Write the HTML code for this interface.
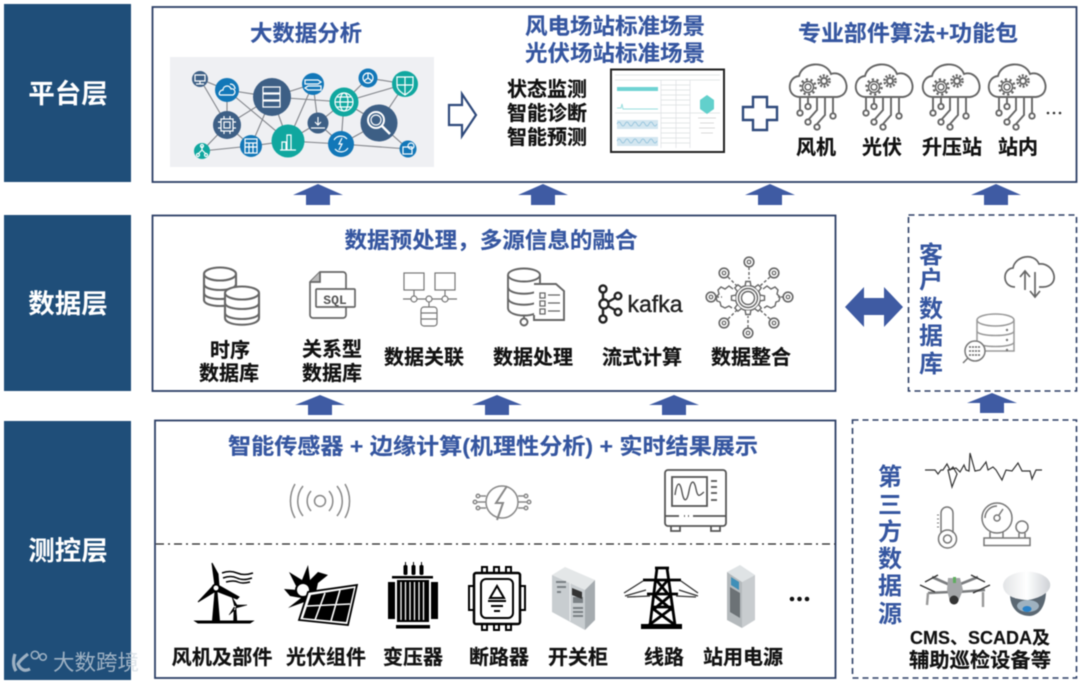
<!DOCTYPE html>
<html lang="zh"><head><meta charset="utf-8"><title>架构图</title>
<style>
html,body{margin:0;padding:0;background:#fff}
svg{display:block;filter:blur(.4px)}
text{font-family:"Liberation Sans","Noto Sans CJK SC",sans-serif;font-weight:700;text-anchor:middle}
.t{fill:#3556a0;font-size:22px;stroke:#3556a0;stroke-width:.15}
.k{fill:#111;font-size:20px;stroke:#111;stroke-width:.2}
.w{fill:#fff;font-size:26.5px}
.v{fill:#3556a0;font-size:24px}
.g{fill:none;stroke:#666;stroke-width:1.7}
.b{fill:none;stroke:#000;stroke-width:3}
.e{stroke:#808389;stroke-width:1.1}
.i{fill:none;stroke:#fff;stroke-width:1.2}
</style></head><body>
<svg width="1080" height="682" viewBox="0 0 1080 682" xmlns="http://www.w3.org/2000/svg">
<defs>
<path id="th" d="M-2.800,-12.500L-2.200,-16.500H2.200L2.800,-12.500" fill="#fff" stroke="#666" stroke-width="1.400"/>
<g id="gr">
 <use href="#th"/><use href="#th" transform="rotate(45)"/><use href="#th" transform="rotate(90)"/><use href="#th" transform="rotate(135)"/><use href="#th" transform="rotate(180)"/><use href="#th" transform="rotate(225)"/><use href="#th" transform="rotate(270)"/><use href="#th" transform="rotate(315)"/>
</g>
<symbol id="cl" overflow="visible">
 <g class="g" style="stroke-width:1.900">
  <path d="M-17,28C-31,28 -30,8 -18,7C-15,-7 9,-9 14,5C29,0 37,26 20,28Z"/>
  <circle cx="-9" cy="18" r="3" stroke-width="1.500"/><circle cx="-9" cy="18" r="5.500" stroke-width="1.500"/><circle cx="-9" cy="18" r="7.500" stroke-width="2.500" stroke-dasharray="2.200 2.500"/>
  <circle cx="7" cy="12" r="3" stroke-width="2"/><circle cx="7" cy="12" r="5.500" stroke-width="2.600" stroke-dasharray="2 1.500"/>
  <path d="M-17,28V41M-9,28V35M0,28V41L-8,50M8,28V46L0,55M16,28V44"/>
  <circle cx="-17" cy="44" r="2.700" fill="#fff"/><circle cx="-9" cy="37.500" r="2.700" fill="#fff"/><circle cx="-9" cy="53" r="2.700" fill="#fff"/><circle cx="0" cy="58" r="2.700" fill="#fff"/><circle cx="16" cy="47" r="2.700" fill="#fff"/>
 </g>
</symbol>
<g id="nd" fill="none" stroke="#666"><circle r="4.800" stroke-width="1.600"/><circle r="1.800" stroke-width="1.200"/></g>
<linearGradient id="dome" x1="0" x2="1"><stop offset="0" stop-color="#e2e4e6"/><stop offset=".5" stop-color="#fff"/><stop offset="1" stop-color="#cfd2d6"/></linearGradient>
</defs>

<!-- layer blocks -->
<rect x="4" y="4" width="127" height="178" fill="#1f4e79"/>
<rect x="4" y="215" width="127" height="176" fill="#1f4e79"/>
<rect x="4" y="421" width="127" height="259" fill="#1f4e79"/>
<text class="w" x="68" y="103">平台层</text>
<text class="w" x="68" y="313">数据层</text>
<text class="w" x="68" y="560">测控层</text>

<!-- boxes -->
<g fill="#fff" stroke="#2d3f66" stroke-width="1.8">
<rect x="152.500" y="7" width="924" height="175"/>
<rect x="152.500" y="215.500" width="683" height="175.500"/>
<rect x="155" y="420.500" width="680.500" height="257.500"/>
</g>
<g fill="none" stroke="#2d3f66" stroke-width="1.600" stroke-dasharray="6 4">
<rect x="908.500" y="215" width="168" height="176"/>
<rect x="852.500" y="420" width="224" height="258"/>
</g>
<path d="M156,544H835" stroke="#222" stroke-width="1.300" stroke-dasharray="8 4 2 4" fill="none"/>

<!-- block arrows -->
<g fill="#3f5ba3">
<path d="M293,195L318,184L343,195H330V205H306V195Z"/>
<path d="M518,195L543,184L568,195H555V205H531V195Z"/>
<path d="M745,195L770,184L795,195H782V205H758V195Z"/>
<path d="M971,195L996,184L1021,195H1008V205H984V195Z"/>
<path d="M295,405L320,395L345,405H332V415H308V405Z"/>
<path d="M472,405L497,395L522,405H509V415H485V405Z"/>
<path d="M649,405L674,395L699,405H686V415H662V405Z"/>
<path d="M967,403L992,393L1017,403H1004V413H980V403Z"/>
<path d="M845,307L864,287V298H884V287L903,307L884,327V315H864V327Z"/>
</g>
<path d="M449,105H462V94L476,115L462,136V125H449Z" fill="#fff" stroke="#2f4a7c" stroke-width="2.200"/>
<path d="M753,97H767V107H777V120H767V130H753V120H743V107H753Z" fill="#fff" stroke="#2f4a7c" stroke-width="2.400"/>

<!-- titles -->
<text class="t" x="306" y="41" textLength="112" lengthAdjust="spacingAndGlyphs">大数据分析</text>
<text class="t" x="615" y="34" textLength="180" lengthAdjust="spacingAndGlyphs">风电场站标准场景</text>
<text class="t" x="615" y="61" textLength="180" lengthAdjust="spacingAndGlyphs">光伏场站标准场景</text>
<text class="t" x="908" y="41" textLength="220" lengthAdjust="spacingAndGlyphs">专业部件算法+功能包</text>
<text class="t" x="491" y="248" textLength="293" lengthAdjust="spacingAndGlyphs">数据预处理，多源信息的融合</text>
<text class="t" x="493" y="454" textLength="530" lengthAdjust="spacingAndGlyphs">智能传感器 + 边缘计算(机理性分析) + 实时结果展示</text>

<!-- network panel -->
<rect x="170" y="57" width="264" height="110" fill="#eff0f3"/>
<path class="e" fill="none" d="M200,79L227,90M200,79L227,125M227,90L272,97M227,90V125M227,90L288,141M272,97L313,84M272,97L227,125M272,97L251,146M272,97L344,102M272,97L288,141M313,84L288,141M313,84L318,123M368,78L344,102M368,78L405,84M344,102L405,84M405,84L379,123M344,102L379,123M344,102L318,123M344,102L341,144M318,123L288,141M318,123L341,144M288,141L341,144M288,141L251,146M227,125L251,146M202,151L251,146M202,151L227,125M341,144L379,123M341,144L408,149M379,123L408,149"/>
<g fill="#3d5f85"><circle cx="200" cy="79" r="8"/><circle cx="272" cy="97" r="19"/><circle cx="379" cy="123" r="18.500"/><circle cx="318" cy="123" r="10.500"/><circle cx="227" cy="125" r="14"/></g>
<g fill="#1277b8"><circle cx="227" cy="90" r="12"/><circle cx="313" cy="84" r="11"/><circle cx="368" cy="78" r="9.500"/><circle cx="341" cy="144" r="13"/><circle cx="251" cy="146" r="11"/><circle cx="408" cy="149" r="8.500"/></g>
<g fill="#10a79f"><circle cx="405" cy="84" r="13"/><circle cx="344" cy="102" r="14.500"/><circle cx="288" cy="141" r="16.500"/><circle cx="202" cy="151" r="8"/></g>
<g class="i">
<path d="M195,75h10v6h-10zM200,81v3M196,84h8"/>
<path d="M220,95h13c4,-3 1,-7 -2,-6c-2,-5 -8,-3 -8,1c-3,0 -5,4 -3,5zM230,84c3,0 5,2 5,5"/>
<path d="M263,87h17v6h-17zM263,94h17v6h-17zM263,101h17v6h-17z"/>
<path d="M305,80h13l3,2l-3,2h-13zM321,86h-13l-3,2l3,2h13z"/>
<circle cx="368" cy="78" r="5"/><path d="M368,78V73M368,78l4,3M368,78l-4,3"/>
<path d="M397,77h16v8c0,5 -5,8 -8,10c-3,-2 -8,-5 -8,-10zM405,77v18M397,85h16"/>
<circle cx="344" cy="102" r="9"/><ellipse cx="344" cy="102" rx="4" ry="9"/><path d="M335,102h18M337,97h14M337,107h14"/>
<circle cx="376" cy="120" r="8" stroke-width="2"/><circle cx="376" cy="120" r="5"/><path d="M382,126l8,8" stroke-width="2.500"/>
<path d="M318,117v8M315,122l3,3l3,-3M311,128h14"/>
<rect x="221" y="119" width="12" height="12"/><rect x="224" y="122" width="6" height="6"/><path d="M218,122h3M218,128h3M233,122h3M233,128h3M224,116v3M230,116v3M224,131v3M230,131v3"/>
<path d="M280,150h16M282,150v-8h4v8M287,150v-15h4v15"/>
<path d="M334,140a8,8 0 0 1 13,-1M348,148a8,8 0 0 1 -13,1M339,150l3,-6h-3l3,-6"/>
<rect x="245" y="139" width="12" height="14"/><path d="M245,143h12M245,147h12M249,143v10M253,143v10"/>
<path d="M202,146v4l-4,4M202,150l4,4"/><circle cx="202" cy="146" r="1.500"/><circle cx="198" cy="155" r="1.500"/><circle cx="206" cy="155" r="1.500"/>
<rect x="403" y="147" width="9" height="7"/><circle cx="411" cy="146" r="3"/>
</g>

<!-- monitoring list + screenshot -->
<text class="k" x="547" y="96">状态监测</text>
<text class="k" x="547" y="120">智能诊断</text>
<text class="k" x="547" y="144">智能预测</text>
<rect x="611" y="69.500" width="113" height="82.500" fill="#fff" stroke="#222" stroke-width="2"/>
<g fill="none" stroke="#dcdfe1" stroke-width=".7">
<path d="M615,75H720M615,80H720M661,80V148M676,80V148M690,80V148M615,113H720M661,85H690M661,90H690M661,95H690M661,100H690M661,105H690M661,118H690M661,123H690M661,128H690M661,133H690M661,138H690M661,143H690"/>
</g>
<rect x="617" y="87" width="41" height="4" fill="#6fd3d3"/>
<path d="M617,108h4l1,-4l1,5h35" fill="none" stroke="#9adfdf"/>
<rect x="617" y="120" width="41" height="9" fill="#d3e6f0"/><rect x="617" y="137" width="41" height="9" fill="#d3e6f0"/>
<path d="M617,124q2,-4 4,0t4,0t4,0t4,0t4,0t4,0t4,0t4,0t4,0t4,0M617,141q2,-4 4,0t4,0t4,0t4,0t4,0t4,0t4,0t4,0t4,0t4,0" fill="none" stroke="#8fc0da" stroke-width=".8"/>
<path d="M707,95l7,5v9l-7,5l-7,-5v-9z" fill="#62d0cc"/>
<path d="M698,118h18M700,123h14M699,128h16M701,133h12" stroke="#d0d0d0" stroke-width=".8"/>

<!-- clouds -->
<use href="#cl" x="817" y="69"/><use href="#cl" x="883" y="69"/><use href="#cl" x="950" y="69"/><use href="#cl" x="1016" y="69"/>
<g fill="#333"><circle cx="1048" cy="113" r="1.300"/><circle cx="1054" cy="113" r="1.300"/><circle cx="1060" cy="113" r="1.300"/></g>
<text class="k" x="816" y="154">风机</text>
<text class="k" x="882" y="154">光伏</text>
<text class="k" x="952" y="154">升压站</text>
<text class="k" x="1018" y="154">站内</text>

<!-- data layer icons -->
<g class="g" style="stroke-width:2.100">
 <path d="M204,274v26c0,8 32,8 32,0v-26"/><ellipse cx="220" cy="274" rx="16" ry="6.500"/><path d="M204,284c0,8 32,8 32,0M204,293c0,8 32,8 32,0"/>
 <path d="M225,293v25c0,9 34,9 34,0v-25" fill="#fff"/><ellipse cx="242" cy="293" rx="17" ry="6.500" fill="#fff"/><path d="M225,303c0,8 34,8 34,0M225,313c0,8 34,8 34,0"/>
</g>
<g class="g">
 <path d="M320,272H343a3,3 0 0 1 3,3V315a3,3 0 0 1 -3,3H313a3,3 0 0 1 -3,-3V282Z"/><path d="M320,272V282H310" fill="#bbb"/>
 <rect x="316" y="289" width="39" height="18" rx="1" fill="#fff"/>
</g>
<text x="335" y="304" style="font-size:13px;fill:#555;font-family:'Liberation Mono',monospace">SQL</text>
<g fill="none" stroke="#777" stroke-width="1.200">
 <rect x="404" y="273" width="20" height="17"/><rect x="435" y="273" width="20" height="17"/>
 <path d="M414,290v7M445,290v7M403,299H457M429,299v8"/>
 <circle cx="414" cy="299" r="3" fill="#fff"/><circle cx="429" cy="299" r="3" fill="#fff"/><circle cx="445" cy="299" r="3" fill="#fff"/>
 <rect x="421" y="307" width="16" height="19" rx="3"/><path d="M421,313h16M421,319h16"/>
</g>
<g fill="none" stroke="#666" stroke-width="1.900">
 <path d="M508,275v33c0,10 32,10 32,0v-33"/><ellipse cx="524" cy="275" rx="16" ry="6.500"/><path d="M508,287c0,9 32,9 32,0M508,298c0,9 32,9 32,0"/>
 <path d="M524,316v3"/><circle cx="524" cy="322" r="3.500"/>
 <path d="M534,284H556L564,291V320H534V315" fill="#fff"/><path d="M540,293h5v5h-5zM548,295h12M540,301h5v5h-5zM548,303h12M540,309h5v5h-5zM548,311h12" stroke-width="1.300"/>
</g>
<g fill="none" stroke="#222" stroke-width="2.400">
 <circle cx="603" cy="289" r="3.500"/><circle cx="604" cy="304" r="4.500"/><circle cx="603" cy="319" r="3.500"/><circle cx="618" cy="296" r="3.300"/><circle cx="618" cy="312" r="3.300"/>
 <path d="M603,293v6M603,309v6M608,302l7,-4M608,306l7,4"/>
</g>
<text x="655" y="312" style="font-size:23px;font-weight:400;fill:#222;stroke:#222;stroke-width:.4" textLength="55" lengthAdjust="spacingAndGlyphs">kafka</text>
<!-- gear hub -->
<g fill="none" stroke="#666" stroke-width="1.400">
 <path d="M733,289l-4,-3l-4,3l-4,-2l-3,3l1,4l-3,3l1,4l3,1l1,4l4,2l4,-2l3,2" />
 <path d="M763,289l4,-3l4,3l4,-2l3,3l-1,4l3,3l-1,4l-3,1l-1,4l-4,2l-4,-2l-3,2"/>
 <g transform="translate(748,298)"><circle r="12.500" fill="#fff"/><use href="#gr"/></g>
 <circle cx="748" cy="298" r="9.500"/><circle cx="748" cy="298" r="6.500"/>
 <path stroke-dasharray="3 2" d="M749,267V279M748,328V316M728,277L737,286M770,277L760,286M728,319L737,310M770,319L760,310M716,297H722M784,297H778"/>
</g>
<use href="#nd" x="749" y="262"/><use href="#nd" x="748" y="333"/><use href="#nd" x="724" y="273"/><use href="#nd" x="774" y="273"/><use href="#nd" x="724" y="323"/><use href="#nd" x="774" y="323"/><use href="#nd" x="711" y="297"/><use href="#nd" x="788" y="297"/>

<text class="k" x="230" y="357">时序</text>
<text class="k" x="229" y="380">数据库</text>
<text class="k" x="332" y="356">关系型</text>
<text class="k" x="332" y="380">数据库</text>
<text class="k" x="424" y="364">数据关联</text>
<text class="k" x="533" y="364">数据处理</text>
<text class="k" x="642" y="364">流式计算</text>
<text class="k" x="751" y="364">数据整合</text>

<!-- measurement top icons -->
<g fill="none" stroke="#888" stroke-width="1.500">
 <circle cx="320" cy="501" r="5.500"/>
 <path d="M311,491a15,15 0 0 0 0,20M329,491a15,15 0 0 1 0,20M303,486a24,24 0 0 0 0,30M337,486a24,24 0 0 1 0,30M295,484a34,34 0 0 0 0,34M345,484a34,34 0 0 1 0,34"/>
 <circle cx="502" cy="502" r="16"/>
 <path d="M507,486L496,503H503L497,520" stroke-width="2"/>
 <path d="M486,496h-6M486,502h-9M486,508h-6M518,496h6M518,502h9M518,508h6"/>
 <circle cx="478" cy="496" r="1.800"/><circle cx="475" cy="502" r="1.800"/><circle cx="478" cy="508" r="1.800"/><circle cx="526" cy="496" r="1.800"/><circle cx="529" cy="502" r="1.800"/><circle cx="526" cy="508" r="1.800"/>
</g>
<g fill="none" stroke="#555" stroke-width="1.800">
 <rect x="665" y="470" width="61" height="56" rx="3"/>
 <rect x="672" y="477" width="35" height="29"/>
 <path d="M675,495c2,-14 5,-14 7,-3s5,10 7,-1s5,-12 7,-2s4,6 8,3" stroke-width="1.400"/>
 <path d="M711,481h6M711,487h6M711,493h6M711,500h6M665,516h14M693,516h33M684,516h1M688,516h1M671,526v5h9v-5M711,526v5h9v-5"/>
</g>

<!-- turbine -->
<g fill="#000">
 <path d="M214.500,592H217.500L220,621H212Z"/>
 <path d="M215,586L212,563L218,574L219,586Z" stroke="#000"/>
 <path d="M213,586L198,602L216,591Z" stroke="#000"/>
 <path d="M218,585L239,597L237,599L216,591Z" stroke="#000"/>
 <path d="M195,621H253L250,623H198Z" stroke="#000"/>
 <path d="M234,608H236L237,622H233.500ZM234.500,606L232,597L237,605ZM236,605L247,605L236,608ZM234,607L229,615L236,609Z" stroke="#000" stroke-width=".5"/>
 <circle cx="216" cy="588" r="3.500" fill="#fff" stroke="#000" stroke-width="2"/>
</g>
<path d="M222,573q8,-3 15,0t16,0M223,578q8,-3 14,0t15,0M226,582q8,-2 12,0t12,0" fill="none" stroke="#000" stroke-width="1.500"/>
<!-- solar -->
<path d="M308,565L310,580L318,572L328,575L318,583L316,592L310,600L288,608L301,598L290,596L284,589L298,590L289,572L302,580Z" fill="#000"/>
<circle cx="303" cy="590" r="7" fill="#fff" stroke="#000" stroke-width="2"/>
<path d="M308,592L357,585L348,625L299,620Z" fill="#fff" stroke="#000" stroke-width="1.800"/>
<path d="M311,595L354,588L346,622L303,618Z" fill="#000"/>
<path d="M325,593L315,620M340,590L331,621M307,606L350,604" stroke="#fff" stroke-width="1.600"/>
<!-- transformer -->
<g fill="#000">
 <rect x="403.500" y="565" width="4" height="10" rx="1.500"/><rect x="411.500" y="565" width="4" height="10" rx="1.500"/><rect x="419.500" y="565" width="4" height="10" rx="1.500"/>
 <path d="M405.500,562v4M413.500,562v4M421.500,562v4" stroke="#000"/>
 <rect x="392" y="576" width="41" height="2.500"/><rect x="388" y="582" width="7" height="37"/><rect x="431" y="582" width="7" height="37"/>
 <rect x="397" y="580" width="32" height="42"/><rect x="396" y="625" width="34" height="3.500"/>
</g>
<path d="M401,582V620M405.500,582V620M410,582V620M414.500,582V620M419,582V620M423.500,582V620" stroke="#fff" stroke-width="1.300"/>
<!-- breaker -->
<g class="b" style="stroke-width:2.500">
 <rect x="474" y="573" width="46" height="51" rx="2"/>
 <rect x="481" y="579" width="32" height="39" rx="5" stroke-width="2"/>
 <path d="M482,567v6h5v-6zM494,567v6h5v-6zM506,567v6h5v-6zM482,624v6h5v-6zM494,624v6h5v-6zM506,624v6h5v-6M474,586h-5v24h5M520,586h5v24h-5" stroke-width="2"/>
 <path d="M497,586l-7,12h14zM488,601h18M491,606h12M494,611h6" stroke-width="2"/>
</g>
<!-- cabinet -->
<path d="M552,575L565,567L595,580L585,590Z" fill="#e4e7e8"/>
<path d="M552,575L585,590V630L552,612Z" fill="#c8cdd0"/>
<path d="M585,590L595,580V620L585,630Z" fill="#a5abaf"/>
<path d="M570,583V621" stroke="#eceeef" stroke-width="1"/>
<g fill="#7a8084"><rect x="556" y="581" width="10" height="2"/><rect x="557" y="586" width="9" height="2"/><rect x="557" y="591" width="4" height="2"/><rect x="573" y="597" width="10" height="6"/><rect x="573" y="607" width="10" height="2"/><rect x="573" y="611" width="10" height="2"/><rect x="573" y="615" width="10" height="2"/></g>
<path d="M572,588L582,592V599L572,595Z" fill="#333"/>
<!-- tower -->
<g fill="none" stroke="#000" stroke-width="3.200">
 <path d="M657,568L650,625M667,568L675,625M655,568H669M643,580H681M647,594H678M653,607H672M657,581L668,594M667,581L656,594M654,595L672,610M671,595L653,610M652,608L675,625M672,608L649,625" stroke-width="2.800"/>
</g>
<rect x="641" y="624" width="41" height="5" fill="#000"/>
<g stroke="#333" fill="none" stroke-width="1.300"><path d="M643,581L624,593M646,590L625,596M650,596L627,597M681,581L698,593M679,590L698,596M676,596L696,597"/></g>
<!-- rack -->
<path d="M727,572L740,565L755,575L742,582Z" fill="#dfe3e5"/>
<path d="M727,572L742,582V628L727,620Z" fill="#b4b9bc"/>
<path d="M742,582L755,575V620L742,628Z" fill="#c8cccf"/>
<path d="M731,577L739,582V590L731,585Z" fill="#3f8fb8"/>
<path d="M730,587L740,593V618L730,612Z" fill="#6c7276"/>
<g fill="#111"><circle cx="792" cy="599" r="2.300"/><circle cx="799.500" cy="599" r="2.300"/><circle cx="807" cy="599" r="2.300"/></g>

<text class="k" x="222" y="664" textLength="101" lengthAdjust="spacingAndGlyphs">风机及部件</text>
<text class="k" x="326" y="664">光伏组件</text>
<text class="k" x="413" y="664">变压器</text>
<text class="k" x="499" y="664">断路器</text>
<text class="k" x="578" y="664">开关柜</text>
<text class="k" x="664" y="664">线路</text>
<text class="k" x="743" y="664">站用电源</text>

<!-- customer database -->
<text class="v" x="931" y="263">客</text><text class="v" x="931" y="288">户</text><text class="v" x="931" y="317">数</text><text class="v" x="931" y="344">据</text><text class="v" x="931" y="372">库</text>
<g class="g" style="stroke-width:1.700">
 <path d="M1014,287H1015C1002,287 1002,269 1013,268C1015,256 1034,252 1039,264C1054,262 1062,286 1043,287H1039"/>
 <path d="M1025,290V272M1020,277L1025,271L1030,277M1035,272V296M1030,291L1035,297L1040,291"/>
</g>
<g fill="none" stroke="#999" stroke-width="1.500">
 <path d="M977,320V351H1014V320"/><ellipse cx="995.500" cy="320" rx="18.500" ry="6"/>
 <path d="M977,331c0,6 37,6 37,0M977,342c0,6 37,6 37,0"/>
 <circle cx="975" cy="351" r="10" fill="#fff" stroke="#777"/><path d="M968,358L963,363" stroke="#777"/>
 <path d="M969,347h12M969,351h12M969,355h12" stroke="#666" stroke-dasharray="2 1"/>
</g>
<circle cx="1007" cy="330" r="1.200" fill="#777"/><circle cx="1007" cy="340" r="1.200" fill="#777"/><circle cx="1007" cy="350" r="1.200" fill="#777"/>

<!-- third party -->
<text class="v" x="890" y="485">第</text><text class="v" x="890" y="513">三</text><text class="v" x="890" y="540">方</text><text class="v" x="890" y="567">数</text><text class="v" x="890" y="594">据</text><text class="v" x="890" y="622">源</text>
<path d="M925,470H935L938,474L941,470H943L947,464L950,470L953,467L957,474L952,487L948,470L956,468L960,472L964,465L966,470L969,471L970,453L975,471L980,470L986,462L988,470L993,467L996,470L1002,480L1006,470L1012,471L1018,463L1022,471L1030,471L1032,479L1036,470H1042" fill="none" stroke="#333" stroke-width="1.200"/>
<g fill="none" stroke="#777" stroke-width="1.500">
 <path d="M941,533V513a6,6 0 0 1 12,0V533"/><circle cx="947.500" cy="539" r="9"/><circle cx="947.500" cy="539" r="4"/>
 <path d="M937,515h2M937,519h2M937,523h2M937,527h2" stroke-width="1"/>
 <circle cx="997" cy="518" r="15"/><path d="M985,518a12,12 0 0 1 12,-12"/><circle cx="997" cy="518" r="3"/><path d="M999,515L1003,509"/>
 <circle cx="1022" cy="527" r="6"/><path d="M990,532V538M1003,532V538M1019,533V538M1025,533V538"/>
 <rect x="984" y="538" width="46" height="7.500"/>
</g>
<!-- drone -->
<g>
 <path d="M950,585L932,577M958,585L978,577M950,592L928,593M958,592L985,590" stroke="#7a7c7e" stroke-width="2.600"/>
 <path d="M925,582L938,575M971,575L985,582M920,585L935,592M990,585L973,593" stroke="#333" stroke-width="1.400"/>
 <path d="M928,593L927,605M983,592L983,607" stroke="#999" stroke-width="2.400"/>
 <path d="M948,578H960L963,590L958,602H950L947,590Z" fill="#a4a6a8"/>
 <rect x="953" y="577" width="3" height="6" fill="#5fae5f"/>
 <circle cx="954" cy="600" r="4.500" fill="#333"/>
</g>
<!-- dome -->
<path d="M1010,594C1010,610 1020,616 1030,616C1040,615 1046,605 1046,591Z" fill="#5b6873"/>
<path d="M1003,585C1005,568 1045,567 1050,583C1052,592 1040,598 1028,600C1015,600 1003,595 1003,585Z" fill="url(#dome)"/>
<ellipse cx="1028" cy="606" rx="11" ry="6" fill="#9fb2c0"/><ellipse cx="1027" cy="609" rx="4.500" ry="3" fill="#2a82c8"/>

<text x="980" y="644" style="font-size:18px;fill:#111;stroke:#111;stroke-width:.15">CMS、SCADA及</text>
<text class="k" x="980" y="667" textLength="142" lengthAdjust="spacingAndGlyphs">辅助巡检设备等</text>

<!-- watermark -->
<g opacity=".72">
 <path d="M15,654C13,660 13,666 16,671M28,654Q20,660 18,664Q22,673 30,669" fill="none" stroke="#cfd8e0" stroke-width="3.200"/>
 <circle cx="35" cy="655" r="3.800" fill="none" stroke="#cfd8e0" stroke-width="1.500"/><circle cx="43" cy="657" r="3.300" fill="none" stroke="#cfd8e0" stroke-width="1.500"/>
 <text x="96" y="670" style="font-size:21.500px;font-weight:400;fill:#cfd8e0" textLength="86" lengthAdjust="spacingAndGlyphs">大数跨境</text>
</g>
</svg>
</body></html>
